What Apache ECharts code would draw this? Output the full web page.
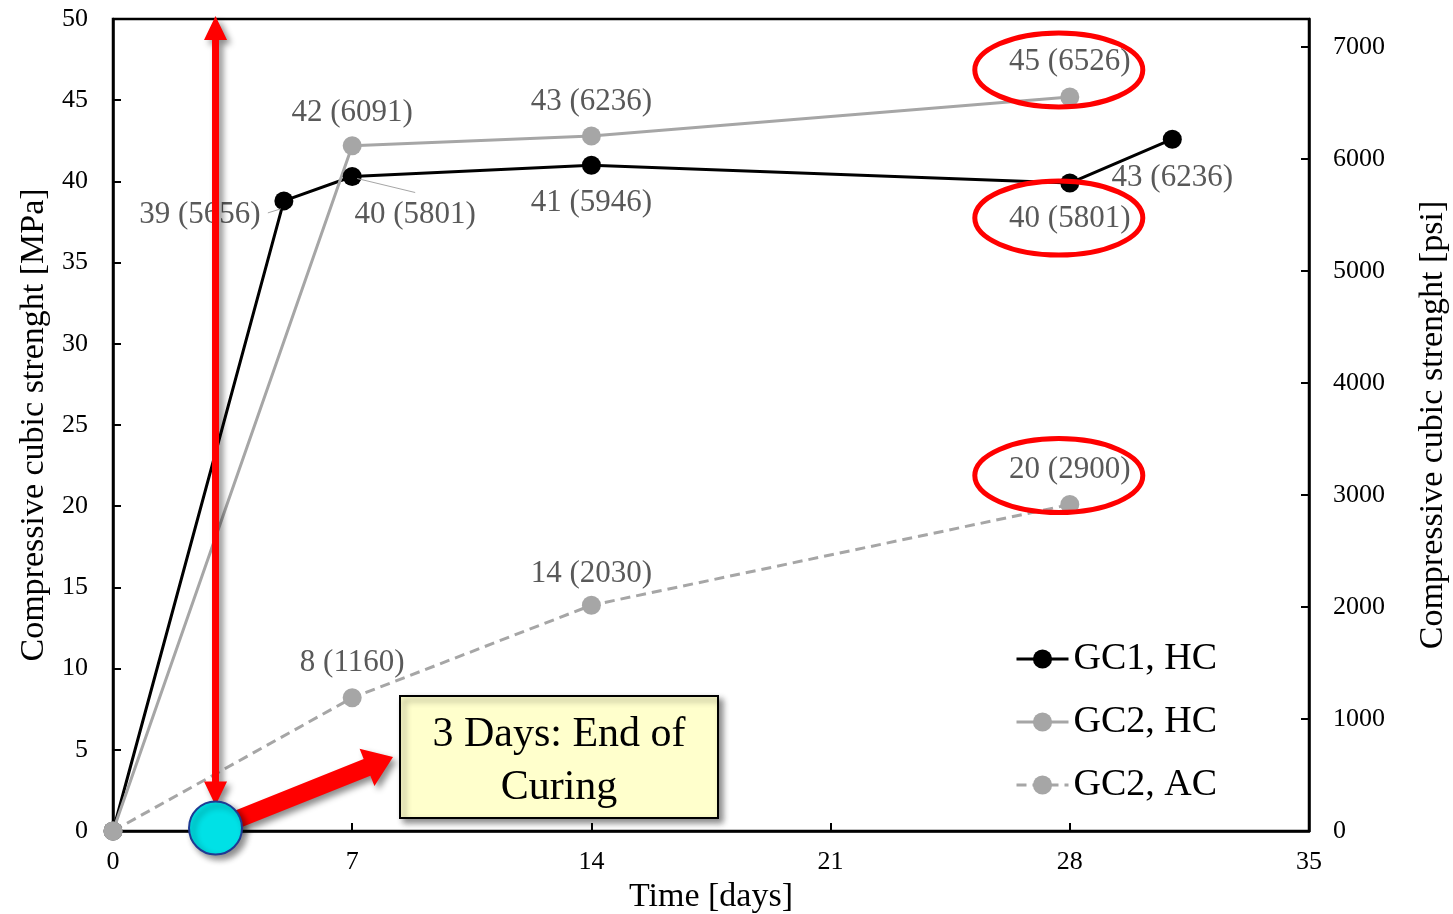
<!DOCTYPE html>
<html><head><meta charset="utf-8">
<script src="https://cdn.jsdelivr.net/npm/echarts@6/dist/echarts.min.js"></script>
<style>html,body{margin:0;padding:0;background:#fff}#c{width:1453px;height:914px}</style>
</head><body><div id="c"></div>
<script>
// ---------- data ----------
const seriesNames = ['GC1, HC', 'GC2, HC', 'GC2, AC'];
const days_GC1_HC = [0, 5, 7, 14, 28, 31];
const mpa_GC1_HC = [0, 38.8, 40.3, 41.0, 39.9, 42.6];
const labels_GC1_HC = ['', '39 (5656)', '40 (5801)', '41 (5946)', '40 (5801)', '43 (6236)'];
const days_GC2_HC = [0, 7, 14, 28];
const mpa_GC2_HC = [0, 42.2, 42.8, 45.2];
const labels_GC2_HC = ['', '42 (6091)', '43 (6236)', '45 (6526)'];
const days_GC2_AC = [0, 7, 14, 28];
const mpa_GC2_AC = [0, 8.2, 13.9, 20.1];
const labels_GC2_AC = ['', '8 (1160)', '14 (2030)', '20 (2900)'];
const xTicks = [0, 7, 14, 21, 28, 35];
const yTicksMPa = [0, 5, 10, 15, 20, 25, 30, 35, 40, 45, 50];
const yTicksPsi = [0, 1000, 2000, 3000, 4000, 5000, 6000, 7000];
const MPA_TO_PSI = 145.038;
const curingDay = 3;
const boxText = '3 Days: End of\nCuring';

// ---------- styles ----------
const FONT = '"Liberation Serif", "Times New Roman", serif';
const offGC1 = [null, [-84, 14], [63, 38], [0, 38], [0, 36], [0, 39]];
const offGC2H = [null, [0, -33], [0, -34], [0, -35]];
const offGC2A = [null, [0, -35], [0, -31], [0, -35]];

function mk(days, vals, labels, offs) {
  return days.map((d, i) => ({
    value: [d, vals[i]],
    label: labels[i] ? { show: true, formatter: labels[i], offset: offs[i] } : { show: false }
  }));
}

const chart = echarts.init(document.getElementById('c'), null, { renderer: 'canvas' });

const labelStyle = { show: true, position: 'inside', fontSize: 31, color: '#595959', fontFamily: FONT };
const axisLineStyle = { color: '#000', width: 2.5 };

const option = {
  animation: false,
  backgroundColor: '#fff',
  textStyle: { fontFamily: FONT },
  grid: { left: 113, right: 144, top: 19, bottom: 83, outerBoundsMode: 'none', containLabel: false,
    show: true, borderColor: '#000', borderWidth: 2.5, backgroundColor: 'transparent' },
  legend: {
    orient: 'vertical', left: 1015, top: 637, padding: 0, itemWidth: 52, itemHeight: 24, itemGap: 19,
    lineStyle: { width: 3 },
    textStyle: { fontSize: 38, fontFamily: FONT, color: '#000', lineHeight: 44 },
    data: seriesNames
  },
  xAxis: {
    type: 'value', min: xTicks[0], max: xTicks[xTicks.length - 1], interval: xTicks[1] - xTicks[0],
    axisLine: { lineStyle: axisLineStyle },
    axisTick: { inside: true, length: 8, lineStyle: { color: '#000', width: 2 } },
    axisLabel: { fontSize: 26, margin: 18, color: '#000', fontFamily: FONT },
    splitLine: { show: false },
    name: 'Time [days]', nameLocation: 'middle', nameGap: 48,
    nameTextStyle: { fontSize: 34, color: '#000', fontFamily: FONT }
  },
  yAxis: [{
    type: 'value', min: yTicksMPa[0], max: yTicksMPa[yTicksMPa.length - 1], interval: yTicksMPa[1] - yTicksMPa[0],
    axisLine: { show: true, lineStyle: axisLineStyle },
    axisTick: { show: true, inside: true, length: 8, lineStyle: { color: '#000', width: 2 } },
    axisLabel: { fontSize: 26, margin: 25, color: '#000', fontFamily: FONT },
    splitLine: { show: false },
    name: 'Compressive cubic strenght [MPa]', nameLocation: 'middle', nameGap: 58, nameRotate: 90,
    nameTextStyle: { fontSize: 34, color: '#000', fontFamily: FONT }
  }, {
    type: 'value', position: 'right', min: 0, max: yTicksMPa[yTicksMPa.length - 1] * MPA_TO_PSI,
    interval: yTicksPsi[1] - yTicksPsi[0],
    axisLine: { show: true, lineStyle: axisLineStyle },
    axisTick: { show: true, inside: true, length: 8, lineStyle: { color: '#000', width: 2 } },
    axisLabel: { fontSize: 26, margin: 24, color: '#000', fontFamily: FONT,
      formatter: v => (yTicksPsi.indexOf(Math.round(v)) >= 0 && Math.abs(v - Math.round(v)) < 1e-6) ? String(Math.round(v)) : '' },
    splitLine: { show: false },
    name: 'Compressive cubic strenght [psi]', nameLocation: 'middle', nameGap: 107, nameRotate: 90,
    nameTextStyle: { fontSize: 34, color: '#000', fontFamily: FONT }
  }],
  series: [{
    type: 'line', name: seriesNames[0], data: mk(days_GC1_HC, mpa_GC1_HC, labels_GC1_HC, offGC1),
    symbol: 'circle', symbolSize: 19, color: '#000',
    lineStyle: { color: '#000', width: 3 }, itemStyle: { color: '#000' }, label: labelStyle
  }, {
    type: 'line', name: seriesNames[1], data: mk(days_GC2_HC, mpa_GC2_HC, labels_GC2_HC, offGC2H),
    symbol: 'circle', symbolSize: 19, color: '#A6A6A6',
    lineStyle: { color: '#A6A6A6', width: 3 }, itemStyle: { color: '#A6A6A6' }, label: labelStyle
  }, {
    type: 'line', name: seriesNames[2], data: mk(days_GC2_AC, mpa_GC2_AC, labels_GC2_AC, offGC2A),
    symbol: 'circle', symbolSize: 19, color: '#A6A6A6',
    lineStyle: { color: '#A6A6A6', width: 3, type: [10, 6] }, itemStyle: { color: '#A6A6A6' }, label: labelStyle
  }]
};
chart.setOption(option);

// ---------- annotations ----------
const P = (x, y) => chart.convertToPixel({ xAxisIndex: 0, yAxisIndex: 0 }, [x, y]);

function arrowPts(x1, y1, x2, y2, sw, hw, hl, dbl) {
  const dx = x2 - x1, dy = y2 - y1, L = Math.hypot(dx, dy);
  const ux = dx / L, uy = dy / L, nx = -uy, ny = ux;
  const pts = [];
  const add = (bx, by, o) => pts.push([bx + nx * o, by + ny * o]);
  const ex = x2 - ux * hl, ey = y2 - uy * hl;
  if (dbl) {
    const sx = x1 + ux * hl, sy = y1 + uy * hl;
    add(sx, sy, sw / 2); add(ex, ey, sw / 2); add(ex, ey, hw / 2); pts.push([x2, y2]);
    add(ex, ey, -hw / 2); add(ex, ey, -sw / 2); add(sx, sy, -sw / 2); add(sx, sy, -hw / 2);
    pts.push([x1, y1]); add(sx, sy, hw / 2);
  } else {
    add(x1, y1, sw / 2); add(ex, ey, sw / 2); add(ex, ey, hw / 2); pts.push([x2, y2]);
    add(ex, ey, -hw / 2); add(ex, ey, -sw / 2); add(x1, y1, -sw / 2);
  }
  return pts;
}

function drawAnnotations() {
  const g = [];
  const a5 = P(days_GC1_HC[1], mpa_GC1_HC[1]);
  const a7 = P(days_GC1_HC[2], mpa_GC1_HC[2]);
  g.push({ type: 'line', z: 5, shape: { x1: a5[0] - 16, y1: a5[1] + 12, x2: a5[0] - 3, y2: a5[1] + 8 }, style: { stroke: '#A6A6A6', lineWidth: 1 } });
  g.push({ type: 'line', z: 5, shape: { x1: a7[0] + 5, y1: a7[1] + 2, x2: a7[0] + 63, y2: a7[1] + 16 }, style: { stroke: '#A6A6A6', lineWidth: 1 } });

  const e1 = P(days_GC2_HC[3], mpa_GC2_HC[3]);
  const e2 = P(days_GC1_HC[4], mpa_GC1_HC[4]);
  const e3 = P(days_GC2_AC[3], mpa_GC2_AC[3]);
  [[e1, -27], [e2, 35], [e3, -29]].forEach(([p, dy]) => {
    g.push({ type: 'ellipse', z: 20, shape: { cx: p[0] - 11, cy: p[1] + dy, rx: 84, ry: 37 }, style: { fill: null, stroke: '#FF0000', lineWidth: 5 } });
  });

  const top = P(curingDay, yTicksMPa[yTicksMPa.length - 1]);
  const base = P(curingDay, 0);
  const cx = base[0], cy = base[1] - 3, r = 26.5;
  const shadow = { shadowBlur: 6, shadowOffsetX: 4, shadowOffsetY: 4, shadowColor: 'rgba(0,0,0,0.45)' };
  g.push({ type: 'polygon', z: 30, shape: { points: arrowPts(cx, top[1] - 3, cx, cy - r + 4, 7, 23, 24, true) },
    style: Object.assign({ fill: '#FF0000' }, shadow) });
  const bx1 = 400, by1 = 696, bw = 318, bh = 122;
  g.push({ type: 'polygon', z: 30, shape: { points: arrowPts(cx, cy, bx1 - 7, by1 + 61, 18, 40, 28, false) },
    style: Object.assign({ fill: '#FF0000' }, shadow) });
  g.push({ type: 'circle', z: 31, shape: { cx: cx, cy: cy, r: r }, style: Object.assign({ fill: '#00E1E6', stroke: '#1F3A93', lineWidth: 2 }, shadow) });
  g.push({ type: 'rect', z: 30, shape: { x: bx1, y: by1, width: bw, height: bh },
    style: Object.assign({ fill: '#FFFFCC', stroke: '#000', lineWidth: 2 }, shadow) });
  g.push({ type: 'text', z: 31, x: bx1 + bw / 2, y: by1 + bh / 2 + 4,
    style: { text: boxText, fontSize: 42, fontFamily: FONT, fill: '#000', align: 'center', verticalAlign: 'middle', lineHeight: 53 } });
  chart.setOption({ graphic: g });
}
drawAnnotations();
</script>
</body></html>
